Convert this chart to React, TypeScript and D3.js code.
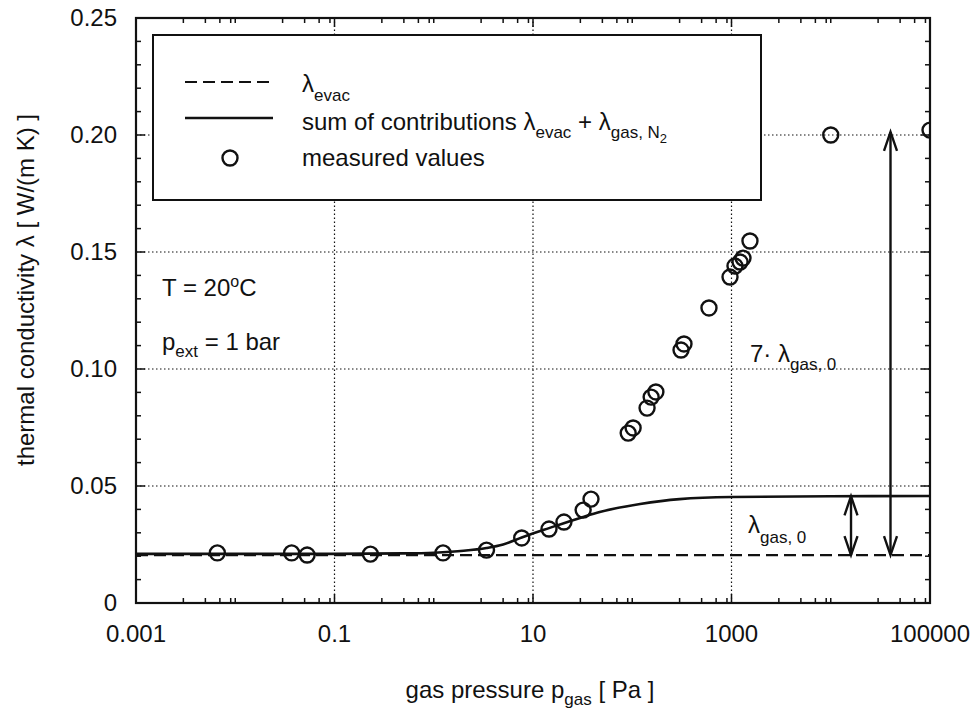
import React from "react";
import * as d3 from "d3";

const pressure = [
  0.0066, 0.037, 0.053, 0.23, 1.24, 3.4, 7.7, 14.5, 20.5, 32, 38.4, 91, 102, 141,
  155, 173, 310, 332, 593, 966, 1084, 1219, 1306, 1535, 10000, 100000,
];
const conductivity = [
  0.0214, 0.0214, 0.0205, 0.0209, 0.0214, 0.0226, 0.0278, 0.0316, 0.0346, 0.0397,
  0.0444, 0.0726, 0.0748, 0.0833, 0.088, 0.0902, 0.1081, 0.1107, 0.1261, 0.1393,
  0.144, 0.1457, 0.1474, 0.1547, 0.2, 0.2021,
];

// sum of contributions curve
const fitPressure = [0.001, 0.1, 0.5, 1, 2, 3.4, 5, 7.7, 14.5, 32, 47, 120, 300, 1000, 10000, 100000];
const fitConductivity = [
  0.021, 0.021, 0.0212, 0.0215, 0.0223, 0.0235, 0.025, 0.028, 0.032, 0.0368, 0.0389,
  0.0423, 0.0444, 0.0453, 0.0456, 0.0457,
];

const evacPressure = [0.001, 100000];
const evacConductivity = [0.0205, 0.0205];

const xMajor = [0.001, 0.1, 10, 1000, 100000];
const xMajorLabels = ["0.001", "0.1", "10", "1000", "100000"];
const xGrid = [0.1, 10, 1000];
const xMinorSteps = [1, 3, 5, 7, 9];
const yMajor = [0, 0.05, 0.1, 0.15, 0.2, 0.25];
const yMajorLabels = ["0", "0.05", "0.10", "0.15", "0.20", "0.25"];
const yGrid = [0.05, 0.1, 0.15, 0.2];

// arrows: [pressure, from, to]
const gasArrow = [16000, 0.0205, 0.0456];
const sevenArrow = [40000, 0.0205, 0.2013];

const W = 978;
const H = 726;
const INK = "#111";
const FONT = "'Liberation Sans', Arial, Helvetica, sans-serif";

const x = d3.scaleLog().domain([0.001, 100000]).range([136, 930]);
const y = d3.scaleLinear().domain([0, 0.25]).range([603, 18]);

function arrowHead(px: number, py: number, dir: number) {
  // dir = -1 points up, 1 points down
  const len = 19;
  const hw = 6.5;
  return `M${px - hw},${py - dir * len} L${px},${py} L${px + hw},${py - dir * len}`;
}

export default function App() {
  const [x0, x1] = x.range();
  const [y0, y1] = y.range();

  const xMinor: number[] = [];
  for (let k = -3; k <= 4; k++) {
    xMinorSteps.forEach((m) => {
      const v = m * Math.pow(10, k);
      if (v < 100000 && !xMajor.some((t) => Math.abs(t - v) / t < 1e-6)) xMinor.push(v);
    });
  }
  const yMinor = d3.range(0, 26).map((i) => i / 100).filter((v) => !yMajor.some((t) => Math.abs(t - v) < 1e-6));

  const fitLine = d3
    .line<number>()
    .x((d, i) => x(fitPressure[i]))
    .y((d) => y(d))
    .curve(d3.curveMonotoneX);
  const evacLine = d3
    .line<number>()
    .x((d, i) => x(evacPressure[i]))
    .y((d) => y(d));

  const ga = { x: x(gasArrow[0]), lo: y(gasArrow[1]), hi: y(gasArrow[2]) };
  const sa = { x: x(sevenArrow[0]), lo: y(sevenArrow[1]), hi: y(sevenArrow[2]) };

  return (
    <svg
      width={W}
      height={H}
      style={{ position: "absolute", left: 0, top: 0, background: "#fff" }}
      fontFamily={FONT}
      fill={INK}
    >
      <defs>
        <clipPath id="plotArea">
          <rect x={x0} y={y1} width={x1 - x0} height={y0 - y1} />
        </clipPath>
      </defs>
      <rect x={0} y={0} width={W} height={H} fill="#fff" />

      {/* grid */}
      <g stroke={INK} strokeWidth={1.2} strokeDasharray="1.5,2.5" fill="none">
        {xGrid.map((v) => (
          <line key={"gx" + v} x1={x(v)} x2={x(v)} y1={y0} y2={y1} />
        ))}
        {yGrid.map((v) => (
          <line key={"gy" + v} x1={x0} x2={x1} y1={y(v)} y2={y(v)} />
        ))}
      </g>

      {/* ticks */}
      <g stroke={INK} strokeWidth={1.5}>
        {xMajor.map((v) => (
          <g key={"xt" + v}>
            <line x1={x(v)} x2={x(v)} y1={y0} y2={y0 - 9} />
            <line x1={x(v)} x2={x(v)} y1={y1} y2={y1 + 9} />
          </g>
        ))}
        {xMinor.map((v) => (
          <g key={"xm" + v}>
            <line x1={x(v)} x2={x(v)} y1={y0} y2={y0 - 5} />
            <line x1={x(v)} x2={x(v)} y1={y1} y2={y1 + 5} />
          </g>
        ))}
        {yMajor.map((v) => (
          <g key={"yt" + v}>
            <line x1={x0} x2={x0 + 9} y1={y(v)} y2={y(v)} />
            <line x1={x1} x2={x1 - 9} y1={y(v)} y2={y(v)} />
          </g>
        ))}
        {yMinor.map((v) => (
          <g key={"ym" + v}>
            <line x1={x0} x2={x0 + 5} y1={y(v)} y2={y(v)} />
            <line x1={x1} x2={x1 - 5} y1={y(v)} y2={y(v)} />
          </g>
        ))}
      </g>

      {/* curves */}
      <path d={evacLine(evacConductivity) || ""} fill="none" stroke={INK} strokeWidth={2.2} strokeDasharray="12,6" />
      <path d={fitLine(fitConductivity) || ""} fill="none" stroke={INK} strokeWidth={2.6} />

      {/* measured values */}
      <g clipPath="url(#plotArea)">
        {pressure.map((p, i) => (
          <circle key={"pt" + i} cx={x(p)} cy={y(conductivity[i])} r={7.5} fill="none" stroke={INK} strokeWidth={2.4} />
        ))}
      </g>

      {/* arrows */}
      <g stroke={INK} strokeWidth={2.4} fill="none">
        <line x1={ga.x} x2={ga.x} y1={ga.lo} y2={ga.hi} />
        <path d={arrowHead(ga.x, ga.hi, -1)} />
        <path d={arrowHead(ga.x, ga.lo, 1)} />
        <line x1={sa.x} x2={sa.x} y1={sa.lo} y2={sa.hi} />
        <path d={arrowHead(sa.x, sa.hi, -1)} />
        <path d={arrowHead(sa.x, sa.lo, 1)} />
      </g>

      {/* frame */}
      <rect x={x0} y={y1} width={x1 - x0} height={y0 - y1} fill="none" stroke={INK} strokeWidth={2.2} />

      {/* tick labels */}
      <g fontSize={24}>
        {xMajor.map((v, i) => (
          <text key={"xl" + v} x={x(v)} y={642} textAnchor="middle">
            {xMajorLabels[i]}
          </text>
        ))}
        {yMajor.map((v, i) => (
          <text key={"yl" + v} x={117} y={y(v) + 8} textAnchor="end">
            {yMajorLabels[i]}
          </text>
        ))}
      </g>

      {/* axis titles */}
      <text x={530} y={698} fontSize={24} textAnchor="middle">
        gas pressure p<tspan fontSize={17} dy={7}>gas</tspan>
        <tspan dy={-7}>{"  [ Pa ]"}</tspan>
      </text>
      <text transform="translate(34,290) rotate(-90)" fontSize={24} textAnchor="middle">
        {"thermal conductivity λ  [ W/(m K) ]"}
      </text>

      {/* legend */}
      <rect x={153} y={35} width={608} height={165} fill="#fff" stroke={INK} strokeWidth={2} />
      <line x1={185} x2={273} y1={82} y2={82} stroke={INK} strokeWidth={2.2} strokeDasharray="12,6" />
      <line x1={185} x2={273} y1={118} y2={118} stroke={INK} strokeWidth={2.6} />
      <circle cx={230} cy={158} r={7.5} fill="none" stroke={INK} strokeWidth={2.4} />
      <text x={302} y={92} fontSize={24}>
        λ<tspan fontSize={17} dy={9}>evac</tspan>
      </text>
      <text x={302} y={130} fontSize={24}>
        {"sum of contributions  "}λ<tspan fontSize={17} dy={8}>evac</tspan>
        <tspan dy={-8}>{" + λ"}</tspan>
        <tspan fontSize={17} dy={8}>gas, N</tspan>
        <tspan fontSize={13} dy={5}>2</tspan>
      </text>
      <text x={302} y={166} fontSize={24}>
        measured values
      </text>

      {/* annotations */}
      <text x={162} y={296} fontSize={24}>
        T = 20<tspan fontSize={16} dy={-9}>o</tspan>
        <tspan dy={9}>C</tspan>
      </text>
      <text x={162} y={350} fontSize={24}>
        p<tspan fontSize={17} dy={7}>ext</tspan>
        <tspan dy={-7}> = 1 bar</tspan>
      </text>
      <text x={750} y={362} fontSize={24}>
        {"7· λ"}
        <tspan fontSize={17} dy={8}>gas, 0</tspan>
      </text>
      <text x={748} y={533} fontSize={24}>
        λ<tspan fontSize={17} dy={10}>gas, 0</tspan>
      </text>
    </svg>
  );
}
